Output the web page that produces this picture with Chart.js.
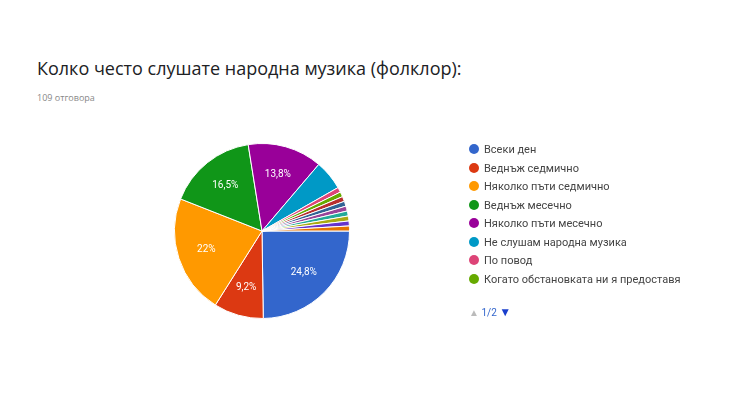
<!DOCTYPE html>
<html>
<head>
<meta charset="utf-8">
<script src="https://cdn.jsdelivr.net/npm/chart.js@4"></script>
<style>
  html, body { margin: 0; padding: 0; background: #fff; }
  body { width: 750px; height: 408px; position: relative; overflow: hidden; font-family: "Open Sans", Roboto, sans-serif; }
  #titulo { position: absolute; left: 37px; top: 56px; font-size: 18px; color: #202124; white-space: nowrap; }
  #sub { position: absolute; left: 37px; top: 91px; font-size: 9px; color: #888; }
  #grafico { position: absolute; left: 0; top: 0; }
  #legenda { position: absolute; left: 469px; top: 143px; font-size: 11px; color: #444; font-family: Roboto, sans-serif; }
  #legenda .item { height: 18.5px; line-height: 14px; white-space: nowrap; }
  #legenda .bola { display: inline-block; width: 10px; height: 10px; border-radius: 50%; vertical-align: -1px; margin-right: 5px; }
  #pagina { position: absolute; left: 469px; top: 305px; font-size: 10px; color: #3366cc; font-family: Roboto, sans-serif; }
  #pagina .cinza { color: #bbb; }
  #pagina .azul { color: #1a3fcc; font-size: 12px; }
</style>
</head>
<body>
<div id="titulo">Колко често слушате народна музика (фолклор):</div>
<div id="sub">109 отговора</div>
<canvas id="grafico" width="750" height="408"></canvas>
<div id="legenda"></div>
<div id="pagina"><span class="cinza">▲</span> 1/2 <span class="azul">▼</span></div>
<script>
// respostas por opção (109 no total)
const categorias = [
  'Всеки ден',
  'Веднъж седмично',
  'Няколко пъти седмично',
  'Веднъж месечно',
  'Няколко пъти месечно',
  'Не слушам народна музика',
  'По повод',
  'Когато обстановката ни я предоставя',
  'Рядко',
  'На празници',
  'На сватби',
  'Понякога',
  'Почти никога',
  'Когато съм на село',
  'Зависи от настроението'
];
const respostas = [27, 10, 24, 18, 15, 6, 1, 1, 1, 1, 1, 1, 1, 1, 1];
const cores = ['#3366cc', '#dc3912', '#ff9900', '#109618', '#990099', '#0099c6', '#dd4477', '#66aa00',
               '#b82e2e', '#316395', '#994499', '#22aa99', '#aaaa11', '#6633cc', '#e67300'];
const itensPorPagina = 8;

const total = respostas.reduce((a, b) => a + b, 0);

function formatarPct(v) {
    let s = (v / total * 100).toFixed(1);
    if (s.endsWith('.0')) s = s.slice(0, -2);
    return s.replace('.', ',') + '%';
}

// rótulos brancos dentro das fatias maiores
const rotulosPlugin = {
    id: 'rotulos',
    afterDatasetsDraw(chart) {
        const ctx = chart.ctx;
        const meta = chart.getDatasetMeta(0);
        ctx.save();
        ctx.fillStyle = '#fff';
        ctx.font = '10px Roboto, sans-serif';
        ctx.textAlign = 'center';
        ctx.textBaseline = 'middle';
        meta.data.forEach((arc, i) => {
            const v = respostas[i];
            if (v / total < 0.09) return;
            const meio = (arc.startAngle + arc.endAngle) / 2;
            const r = arc.outerRadius * 0.67;
            ctx.fillText(formatarPct(v), arc.x + Math.cos(meio) * r, arc.y + Math.sin(meio) * r);
        });
        ctx.restore();
    }
};

new Chart(document.getElementById('grafico'), {
    type: 'pie',
    data: {
        labels: categorias,
        datasets: [{
            data: respostas,
            backgroundColor: cores,
            borderColor: '#fff',
            borderWidth: 1
        }]
    },
    options: {
        responsive: false,
        animation: false,
        rotation: 90,
        layout: { padding: { left: 174, right: 400, top: 143, bottom: 89 } },
        plugins: {
            legend: { display: false },
            tooltip: { enabled: false }
        }
    },
    plugins: [rotulosPlugin]
});

// legenda em HTML (primeira página)
const legenda = document.getElementById('legenda');
categorias.slice(0, itensPorPagina).forEach((nome, i) => {
    const div = document.createElement('div');
    div.className = 'item';
    div.innerHTML = '<span class="bola" style="background:' + cores[i] + '"></span>' + nome;
    legenda.appendChild(div);
});
</script>
</body>
</html>
